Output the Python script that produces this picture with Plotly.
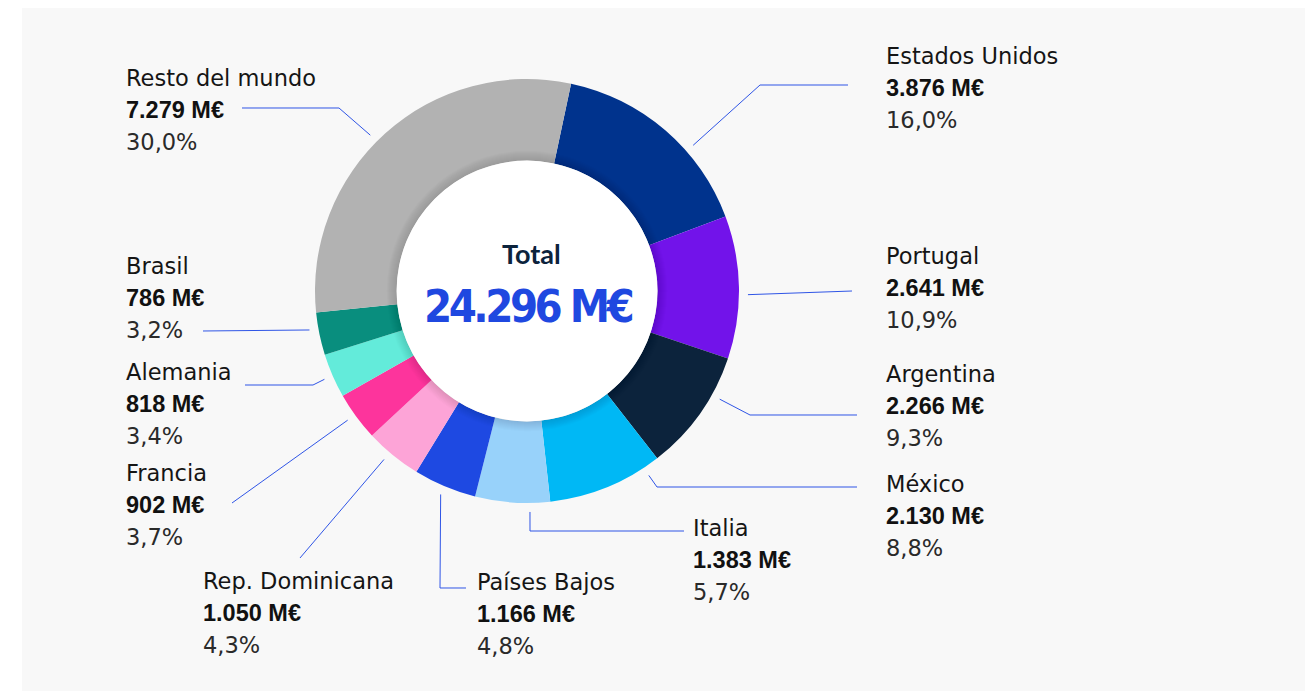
import math
import plotly.graph_objects as go

# Datos
paises = ['Estados Unidos', 'Portugal', 'Argentina', 'México', 'Italia', 'Países Bajos',
          'Rep. Dominicana', 'Francia', 'Alemania', 'Brasil', 'Resto del mundo']
valores = [3876, 2641, 2266, 2130, 1383, 1166, 1050, 902, 818, 786, 7279]
porcentajes = ['16,0%', '10,9%', '9,3%', '8,8%', '5,7%', '4,8%',
               '4,3%', '3,7%', '3,4%', '3,2%', '30,0%']
total = 24296

colores = ['#00338d', '#7213ea', '#0c233c', '#00b8f5', '#98d2fa', '#1e49e2',
           '#fda4d7', '#fd349c', '#63ebda', '#098e7e', '#b2b2b2']

# Mise en page (pixels de la page, la marge du body fait 8 px)
OFF = 8
W, H = 1297, 683
cx, cy, R = 527, 291, 212
hueco = 0.615
rotacion = 12

# position du texte (x gauche, centre de la 1re ligne)
etiquetas_pos = [(886, 56), (886, 256), (886, 374), (886, 484), (693, 528), (477, 582),
                 (203, 581), (126, 473), (126, 372), (126, 266), (126, 78)]
# point dans la tranche où commence le trait, coude, fin
frac = [0.64, 0.55, 0.32, 0.14, 0.27, 0.51, 0.57, 0.54, 0.5, 0.63, 0.47]
codos = [(760, 85), None, (750, 415), (657, 487), (530, 531), (440, 588),
         None, None, (313, 385), None, (339, 108)]
finales = [(848, 85), (852, 291), (857, 415), (857, 487), (684, 531), (466, 588),
           (300, 558), (232, 503), (245, 385), (203, 331), (242, 108)]


def px(x):
    return (x - OFF) / W


def py(y):
    return 1 - (y - OFF) / H


fig = go.Figure()

fig.add_trace(go.Pie(
    labels=paises,
    values=valores,
    hole=hueco,
    sort=False,
    direction='clockwise',
    rotation=rotacion,
    marker=dict(colors=colores, line=dict(width=0)),
    textinfo='none',
    hoverinfo='label+value+percent',
    showlegend=False,
    domain=dict(x=[px(cx - R), px(cx + R)], y=[py(cy + R), py(cy - R)]),
))

shapes = []
# fond gris
shapes.append(dict(type='rect', xref='paper', yref='paper', x0=px(22), x1=px(1305),
                   y0=0, y1=py(8), fillcolor='#f8f8f8', line=dict(width=0), layer='below'))

# ombre + cercle blanc central
r_in = hueco * R
for k in range(10, 0, -1):
    r = r_in + k
    shapes.append(dict(type='circle', xref='paper', yref='paper',
                       x0=px(cx - r), x1=px(cx + r), y0=py(cy + r), y1=py(cy - r),
                       fillcolor='rgba(0,0,0,0.011)', line=dict(width=0), layer='above'))
shapes.append(dict(type='circle', xref='paper', yref='paper',
                   x0=px(cx - r_in), x1=px(cx + r_in), y0=py(cy + r_in), y1=py(cy - r_in),
                   fillcolor='white', line=dict(width=0), layer='above'))

# traits de rappel
suma = sum(valores)
acum = 0
for i, v in enumerate(valores):
    a0 = rotacion + 360 * acum / suma
    span = 360 * v / suma
    acum += v
    ang = math.radians(a0 + frac[i] * span)
    r = R + 9
    x0, y0 = cx + r * math.sin(ang), cy - r * math.cos(ang)
    pts = [(x0, y0)]
    if codos[i] is not None:
        pts.append(codos[i])
    pts.append(finales[i])
    path = 'M ' + ' L '.join(f'{px(x):.5f},{py(y):.5f}' for x, y in pts)
    shapes.append(dict(type='path', xref='paper', yref='paper', path=path,
                       line=dict(color='#2f55e6', width=1), layer='above'))

annotations = []
paso = 32
for i, pais in enumerate(paises):
    x, y = etiquetas_pos[i]
    valor_txt = f'{valores[i]:,}'.replace(',', '.') + ' M€'
    lineas = [
        (pais, dict(family='DejaVu Sans', size=22.5, color='#151515')),
        ('<b>' + valor_txt + '</b>', dict(family='Liberation Sans', size=23.5, color='#111111')),
        (porcentajes[i], dict(family='DejaVu Sans', size=22.5, color='#2a2a2a')),
    ]
    for j, (txt, fuente) in enumerate(lineas):
        annotations.append(dict(x=px(x - 2), y=py(y + j * paso), xref='paper', yref='paper',
                                text=txt, showarrow=False, xanchor='left', yanchor='middle',
                                font=fuente))

# texte central
annotations.append(dict(x=px(531), y=py(254), xref='paper', yref='paper',
                        text='<b>Total</b>', showarrow=False, xanchor='center', yanchor='middle',
                        font=dict(family='Lato', size=27, color='#0c233c')))
total_txt = f'{total:,}'.replace(',', '.') + ' M€'
annotations.append(dict(x=px(528), y=py(306), xref='paper', yref='paper',
                        text='<span style="letter-spacing:-3.5px"><b>' + total_txt + '</b></span>',
                        showarrow=False, xanchor='center', yanchor='middle',
                        font=dict(family='DejaVu Sans Condensed', size=45, color='#1f48e0')))

fig.update_layout(
    width=W, height=H,
    margin=dict(l=0, r=0, t=0, b=0),
    paper_bgcolor='white',
    shapes=shapes,
    annotations=annotations,
)

fig.write_html('out.html')
